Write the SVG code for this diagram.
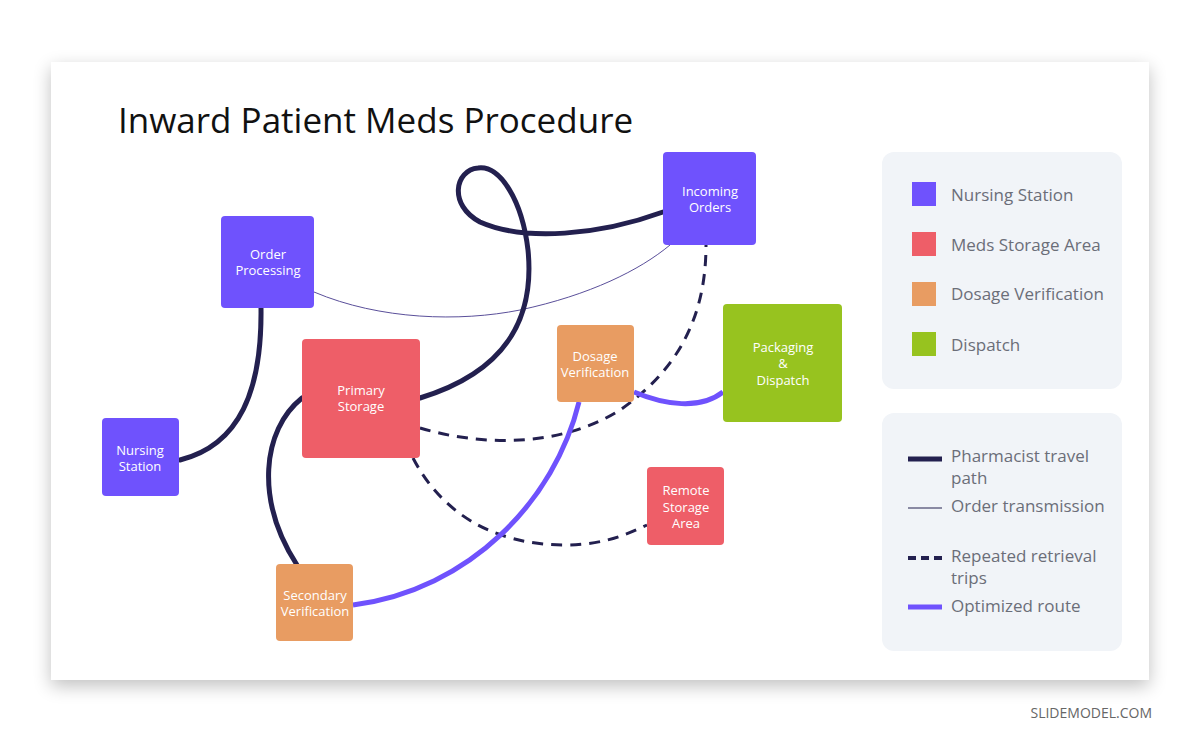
<svg xmlns="http://www.w3.org/2000/svg" width="1200" height="743" viewBox="0 0 1200 743">
<defs>
<filter id="sh" x="-10%" y="-10%" width="120%" height="130%"><feGaussianBlur in="SourceAlpha" stdDeviation="9"/><feOffset dy="6"/><feComponentTransfer><feFuncA type="linear" slope="0.25"/></feComponentTransfer><feMerge><feMergeNode/><feMergeNode in="SourceGraphic"/></feMerge></filter>
<style>
text{font-family:"Segoe UI","Open Sans","Liberation Sans",sans-serif}
.n{fill:#fff;font-size:13px;text-anchor:middle}
.lg{fill:#6b6e78;font-size:17px}
.p{fill:#6f52fd}.r{fill:#ee5e68}.o{fill:#e89c62}.g{fill:#97c31f}
.dk{fill:none;stroke:#23204f;stroke-width:5;stroke-linecap:round}
.ds{fill:none;stroke:#23204f;stroke-width:3;stroke-dasharray:11 8}
.th{fill:none;stroke:#5a4f9a;stroke-width:1}
.op{fill:none;stroke:#6f52fd;stroke-width:5}
</style>
</defs>
<rect width="1200" height="743" fill="#fff"/>
<rect x="51" y="62" width="1098" height="618" fill="#fff" filter="url(#sh)"/>
<text x="118" y="133" font-size="35" fill="#111">Inward Patient Meds Procedure</text>
<g id="connectors">
<path class="th" d="M314,292 C380,320 460,322 520,310 C590,295 640,270 670,245"/>
<path class="dk" d="M261,308 C262,390 240,445 180,460"/>
<path class="dk" d="M420,398 C505,372 535,320 528,250 C522,200 500,165 478,168 C455,170 448,205 480,222 C525,242 600,235 663,212"/>
<path class="dk" d="M302,398 C262,430 255,500 297,565"/>
<path class="ds" d="M420,428 C480,446 560,448 620,410 C690,362 706,300 706,245"/>
<path class="ds" d="M413,458 C440,510 490,545 565,545 C605,545 630,533 647,525"/>
<path class="op" d="M353,605 C470,590 555,500 579,402"/>
<path class="op" d="M634,392 C665,405 700,410 723,392"/>
</g>
<g id="incoming-orders"><rect class="p" x="663" y="152" width="93" height="93" rx="4"/><text class="n" x="710" y="196">Incoming</text><text class="n" x="710" y="212">Orders</text></g>
<g id="order-processing"><rect class="p" x="221" y="216" width="93" height="92" rx="4"/><text class="n" x="268" y="259">Order</text><text class="n" x="268" y="275">Processing</text></g>
<g id="nursing-station"><rect class="p" x="102" y="418" width="77" height="78" rx="4"/><text class="n" x="140" y="455">Nursing</text><text class="n" x="140" y="471">Station</text></g>
<g id="primary-storage"><rect class="r" x="302" y="339" width="118" height="119" rx="4"/><text class="n" x="361" y="395">Primary</text><text class="n" x="361" y="411">Storage</text></g>
<g id="dosage-verification"><rect class="o" x="557" y="325" width="77" height="77" rx="4"/><text class="n" x="595" y="361">Dosage</text><text class="n" x="595" y="377">Verification</text></g>
<g id="packaging-dispatch"><rect class="g" x="723" y="304" width="119" height="118" rx="4"/><text class="n" x="783" y="352">Packaging</text><text class="n" x="783" y="368">&amp;</text><text class="n" x="783" y="385">Dispatch</text></g>
<g id="remote-storage"><rect class="r" x="647" y="467" width="77" height="78" rx="4"/><text class="n" x="686" y="495">Remote</text><text class="n" x="686" y="512">Storage</text><text class="n" x="686" y="528">Area</text></g>
<g id="secondary-verification"><rect class="o" x="276" y="564" width="77" height="77" rx="4"/><text class="n" x="315" y="600">Secondary</text><text class="n" x="315" y="616">Verification</text></g>
<g id="legend-nodes"><rect x="882" y="152" width="240" height="237" rx="12" fill="#f1f4f8"/>
<rect class="p" x="912" y="182" width="24" height="24"/><text class="lg" x="951" y="201">Nursing Station</text>
<rect class="r" x="912" y="232" width="24" height="24"/><text class="lg" x="951" y="251">Meds Storage Area</text>
<rect class="o" x="912" y="282" width="24" height="24"/><text class="lg" x="951" y="300">Dosage Verification</text>
<rect class="g" x="912" y="332" width="24" height="24"/><text class="lg" x="951" y="351">Dispatch</text></g>
<g id="legend-lines"><rect x="882" y="413" width="240" height="238" rx="12" fill="#f1f4f8"/>
<line x1="908" y1="459" x2="942" y2="459" stroke="#23204f" stroke-width="5"/><text class="lg" x="951" y="462">Pharmacist travel</text><text class="lg" x="951" y="484">path</text>
<line x1="908" y1="508" x2="942" y2="508" stroke="#23204f" stroke-width="1"/><text class="lg" x="951" y="512">Order transmission</text>
<line x1="908" y1="558" x2="942" y2="558" stroke="#23204f" stroke-width="4" stroke-dasharray="8 5"/><text class="lg" x="951" y="562">Repeated retrieval</text><text class="lg" x="951" y="584">trips</text>
<line x1="908" y1="607" x2="942" y2="607" stroke="#6f52fd" stroke-width="5"/><text class="lg" x="951" y="612">Optimized route</text></g>
<text x="1152" y="718" font-size="14" fill="#666" text-anchor="end">SLIDEMODEL.COM</text>
</svg>
